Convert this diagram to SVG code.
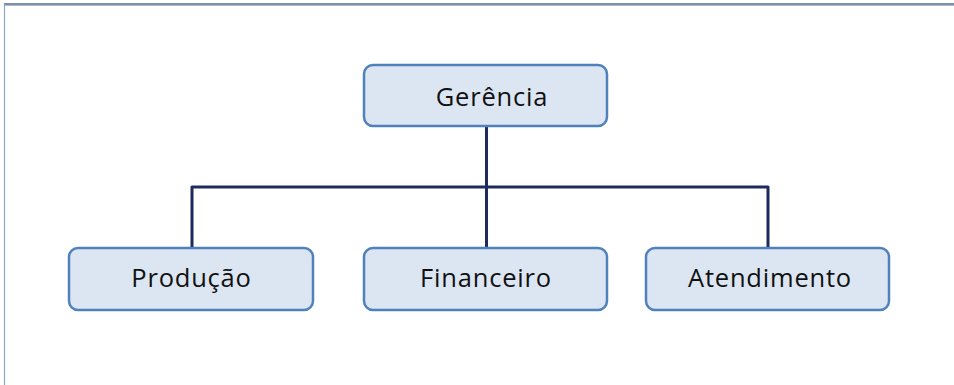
<svg xmlns="http://www.w3.org/2000/svg" width="954" height="385" viewBox="0 0 954 385">
<style>
.box{fill:#dce6f2;stroke:#4f81bd;stroke-width:2.5}
.lbl{font-family:"Open Sans","Noto Sans",sans-serif;font-size:25.5px;letter-spacing:0.8px;fill:#111;text-anchor:middle}
.conn{fill:none;stroke:#1f2b5e;stroke-width:3;stroke-linejoin:round}
</style>
<rect x="0" y="0" width="954" height="385" fill="#ffffff"/>
<line x1="4" y1="4" x2="954" y2="4" stroke="#56688c" stroke-width="1.5"/>
<line x1="4" y1="5.5" x2="954" y2="5.5" stroke="#a9bdd8" stroke-width="1"/>
<line x1="4.5" y1="4" x2="4.5" y2="385" stroke="#8fa6c8" stroke-width="1.2"/>
<g id="connectors">
<path class="conn" d="M486.5 126 V248"/>
<path class="conn" d="M192 248 V187 H768 V248"/>
</g>
<g id="gerencia">
<rect class="box" x="364" y="65" width="243" height="61" rx="9"/>
<text class="lbl" x="492" y="106">Gerência</text>
</g>
<g id="producao">
<rect class="box" x="69" y="248" width="244" height="62" rx="9"/>
<text class="lbl" x="191.5" y="287">Produção</text>
</g>
<g id="financeiro">
<rect class="box" x="364" y="248" width="243" height="62" rx="9"/>
<text class="lbl" x="486" y="287">Financeiro</text>
</g>
<g id="atendimento">
<rect class="box" x="646" y="248" width="243" height="62" rx="9"/>
<text class="lbl" x="770" y="287">Atendimento</text>
</g>
</svg>
